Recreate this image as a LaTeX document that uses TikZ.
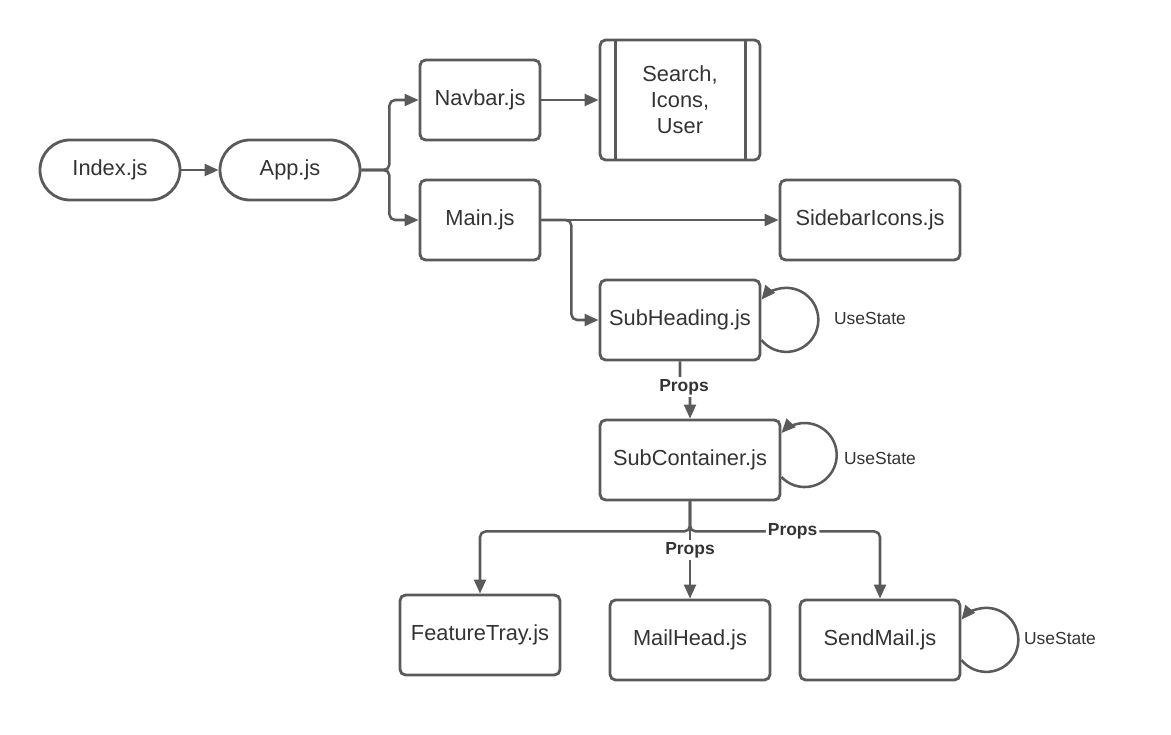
\documentclass[tikz,border=0pt]{standalone}
\usepackage{fontspec}
\setmainfont{Liberation Sans}
\usetikzlibrary{arrows.meta}
\definecolor{linegray}{HTML}{5A5A5A}
\definecolor{textgray}{HTML}{333333}
\tikzstyle{box}=[draw=linegray,line width=2pt,rounded corners=4pt,text=textgray,minimum height=2cm,inner sep=2pt,font=\fontsize{15.5}{18.6}\selectfont]
\tikzstyle{pill box}=[box,rounded corners=0.75cm,minimum width=3.5cm,minimum height=1.5cm]
\tikzstyle{link}=[draw=linegray,line width=1.8pt,rounded corners=4pt,-{Triangle[length=10pt,width=8.5pt]}]
\tikzstyle{props}=[fill=white,text=textgray,font=\bfseries\fontsize{12.4}{14}\selectfont,inner sep=1.5pt]
\tikzstyle{usestate}=[text=textgray,font=\fontsize{12.4}{14}\selectfont]
\begin{document}
\begin{tikzpicture}[x=0.025cm,y=-0.025cm]
  \useasboundingbox (0,0) rectangle (1171,735);
    % Entry points
    \node[pill box] (index) at (110,170) {Index.js};
    \node[pill box] (app) at (290,170) {App.js};
    % Then the component boxes
    \foreach \pos/\name/\boxw/\txt in {{(480,100)/navbar/3cm/Navbar.js},{(480,220)/main/3cm/Main.js},
                                     {(870,220)/sidebar/4.5cm/SidebarIcons.js},{(680,320)/subheading/4cm/SubHeading.js},
                                     {(690,460)/subcontainer/4.5cm/SubContainer.js},{(480,635)/featuretray/4cm/FeatureTray.js},
                                     {(690,640)/mailhead/4cm/MailHead.js},{(880,640)/sendmail/4cm/SendMail.js}}
        \node[box,minimum width=\boxw] (\name) at \pos {\txt};
    \node[box,minimum width=4cm,minimum height=3cm,align=center] (search) at (680,100) {Search,\\Icons,\\User};
    \draw[linegray,line width=2pt] ([xshift=0.425cm]search.north west) -- ([xshift=0.425cm]search.south west);
    \draw[linegray,line width=2pt] ([xshift=-0.4cm]search.north east) -- ([xshift=-0.4cm]search.south east);
    % Connect the components
    \draw[link] (index) -- (app);
    \draw[link] (app.east) -- ++(28,0) |- (navbar.west);
    \draw[link] (app.east) -- ++(28,0) |- (main.west);
    \draw[link] (navbar) -- (search);
    \draw[link] (main) -- (sidebar);
    \draw[link] (main.east) -- ++(30,0) |- (subheading.west);
    \draw[link] (subheading.south) |- (684,387) node[props] {Props} -| (subcontainer.north);
    \draw[link] (subcontainer.south) -- ++(0,30) -| (featuretray.north);
    \draw[link] (subcontainer.south) -- node[props] {Props} (mailhead.north);
    \draw[link] (subcontainer.south) -- ++(0,30) -| node[props,pos=0.27] {Props} (sendmail.north);
    % State loops
    \draw[link] ([yshift=-0.5cm]subheading.east) arc[start angle=-141,end angle=141,radius=0.8cm];
    \draw[link] ([yshift=-0.425cm]subcontainer.east) arc[start angle=-136.6,end angle=136.6,radius=0.8cm];
    \draw[link] ([yshift=-0.5cm]sendmail.east) arc[start angle=-141,end angle=141,radius=0.8cm];
    \foreach \pos/\name in {{(870,318)/hook1},{(880,458)/hook2},{(1060,638)/hook3}}
        \node[usestate] (\name) at \pos {UseState};
\end{tikzpicture}
\end{document}
